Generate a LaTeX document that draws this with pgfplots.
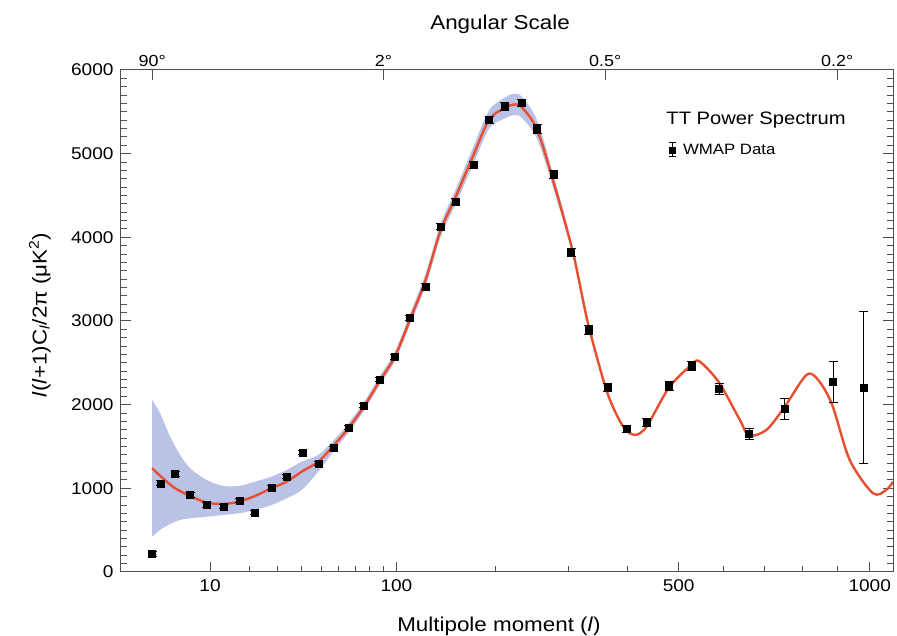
\documentclass[border=0pt]{standalone}
\usepackage{fontspec}
\setmainfont{Liberation Sans}[FakeStretch=1.12]
\usepackage{pgfplots}
\pgfplotsset{compat=1.18}
\usepackage{pgfplotstable}
\usepgfplotslibrary{fillbetween}

\definecolor{bandblue}{RGB}{186,194,230}
\definecolor{fitred}{RGB}{232,78,48}
\definecolor{axgray}{RGB}{80,80,80}

% WMAP binned data: multipole, power, error
\pgfplotstableread{
l y e
2 215 30
2.74 1061 30
4.3 1172 25
6.4 921 25
9.3 801 25
12.9 781 25
17.1 853 25
21.8 709 25
27.6 1013 25
33.6 1140 25
40.7 1424 25
48.5 1300 25
56.7 1480 25
65.7 1727 25
75.9 1986 25
86.8 2297 25
98.8 2575 30
111.2 3035 30
125.2 3413 35
139.2 4130 35
154.9 4429 40
173.5 4868 40
191.9 5407 40
211 5566 45
232.5 5606 45
253.7 5295 50
277.7 4749 50
304 3822 50
332.2 2895 50
363.8 2205 50
397.7 1707 45
435.3 1786 45
480 2225 50
527.1 2464 55
588.7 2190 65
660.3 1651 70
752.4 1946 125
887.8 2270 245
981 2207 907
}\wmap

% best-fit model
\pgfplotstableread{
l y
2 1240
2.83 1133
4.3 1001
6.4 909
9.3 829
12.9 813
17.1 841
21.8 909
27.6 1001
33.6 1080
40.3 1200
48.5 1319
56.7 1507
65.7 1719
75.9 1977
86.8 2276
98.8 2575
111.2 3014
125.2 3493
139 4070
155.6 4510
173.5 4976
191.9 5407
211 5546
221.6 5586
232.5 5558
253.7 5287
277.7 4649
304.6 3891
315.1 3532
332.2 2934
363.8 2137
391.6 1738
413.1 1639
435.3 1738
480 2205
527.1 2476
545 2516
588.7 2264
637.8 1818
660.3 1631
704.4 1699
752.4 1977
811.3 2356
844.2 2297
885 2000
937.6 1340
1010 941
1053 981
1075 1080
}\model

% cosmic variance band
\pgfplotstableread{
l up lo
2 2057 422
2.67 1898 502
3.71 1619 574
4.94 1400 622
6.4 1240 642
9.3 1100 661
12.9 1029 682
17.1 1029 702
21.8 1080 742
27.6 1140 801
33.6 1220 881
40.3 1319 981
48.5 1400 1200
56.7 1570 1440
65.7 1775 1660
75.9 2030 1925
86.8 2330 2225
98.8 2635 2520
111.2 3080 2950
125.2 3570 3420
139 4150 3990
155.6 4600 4420
173.5 5080 4870
191.9 5520 5300
211 5670 5420
221.6 5715 5460
232.5 5685 5430
253.7 5400 5175
277.7 4730 4570
304.6 3945 3840
332.2 2965 2905
}\band

\begin{document}
\begin{tikzpicture}[font=\color{black!80}]
\begin{axis}[
  name=ax,
  scale only axis, width=772pt, height=502pt,
  x coord trafo/.code={\pgfmathparse{(#1)^0.405}},
  x coord inv trafo/.code={\pgfmathparse{(#1)^2.469136}},
  xmin=0.37, xmax=1075, ymin=0, ymax=6000,
  axis line style={axgray, line width=1pt},
  xtick={10,100,500,1000}, xticklabels={10,100,500,1000},
  minor xtick={20,30,40,50,60,70,80,90,200,300,400,600,700,800,900},
  xtick pos=bottom, ytick pos=both, yticklabel pos=left,
  tick align=inside,
  major tick length=10pt, minor tick length=6pt,
  tick style={axgray, line width=1pt},
  ytick={0,1000,2000,3000,4000,5000,6000},
  yticklabels={0,1000,2000,3000,4000,5000,6000},
  minor y tick num=9,
  ticklabel style={font=\fontsize{17}{20}\selectfont},
  xticklabel style={yshift=-4pt},
  yticklabel style={xshift=-4pt},
  xlabel={Multipole moment (\textit{l})},
  ylabel={\textit{l}(\textit{l}+1)C\textsubscript{\textit{l}}/2π (μK\textsuperscript{2})},
  xlabel style={font=\fontsize{20}{24}\selectfont, at={(rel axis cs:0.4896,-0.1195)}, anchor=base},
  ylabel style={font=\fontsize{20}{24}\selectfont, at={(rel axis cs:-0.105,0.512)}, anchor=center},
  legend style={at={(rel axis cs:0.7085,0.841)}, anchor=west, draw=none, fill=none,
    inner sep=0pt, font=\fontsize{15}{18}\selectfont,
    nodes={inner xsep=7pt}},
  legend cell align=left,
]
\addplot[name path=up, draw=none, smooth, forget plot] table[x=l, y=up] {\band};
\addplot[name path=lo, draw=none, smooth, forget plot] table[x=l, y=lo] {\band};
\addplot[bandblue, forget plot] fill between[of=up and lo];
\addplot[fitred, line width=2.4pt, smooth, forget plot] table[x=l, y=y] {\model};
\addplot[only marks, mark=square*, mark size=3.5pt, black, forget plot,
  error bars/.cd, y dir=both, y explicit,
  error bar style={line width=0.9pt, black},
  error mark options={rotate=90, line width=0.9pt, mark size=4.5pt, black},
  ] table[x=l, y=y, y error=e] {\wmap};
\addlegendimage{legend image code/.code={
  \draw[black, line width=0.9pt] (4pt,-7pt) -- (4pt,7pt);
  \draw[black, line width=0.9pt] (0.5pt,-7pt) -- (7.5pt,-7pt);
  \draw[black, line width=0.9pt] (0.5pt,7pt) -- (7.5pt,7pt);
  \fill[black] (1pt,-3pt) rectangle (7pt,3pt);
}}
\addlegendentry{WMAP Data}
\node[anchor=west, font=\fontsize{18}{22}\selectfont] at (rel axis cs:0.702,0.900) {TT Power Spectrum};
\end{axis}
\begin{axis}[
  scale only axis, width=772pt, height=502pt,
  x coord trafo/.code={\pgfmathparse{(#1)^0.405}},
  x coord inv trafo/.code={\pgfmathparse{(#1)^2.469136}},
  xmin=0.37, xmax=1075, ymin=0, ymax=6000,
  axis x line*=top, axis y line=none,
  axis line style={axgray, line width=1pt},
  xtick={2,90,360,900}, xticklabels={90°,2°,0.5°,0.2°},
  tick align=inside, major tick length=10pt,
  tick style={axgray, line width=1pt},
  ticklabel style={font=\fontsize{16}{19}\selectfont},
  xlabel={Angular Scale},
  xlabel style={font=\fontsize{20}{24}\selectfont, at={(rel axis cs:0.491,1.0797)}, anchor=base},
]
\addplot[draw=none] coordinates {(10,100)};
\end{axis}
\pgfresetboundingbox
\path ([xshift=-121pt,yshift=-64pt]ax.south west) rectangle ([xshift=4pt,yshift=70pt]ax.north east);
\end{tikzpicture}
\end{document}
